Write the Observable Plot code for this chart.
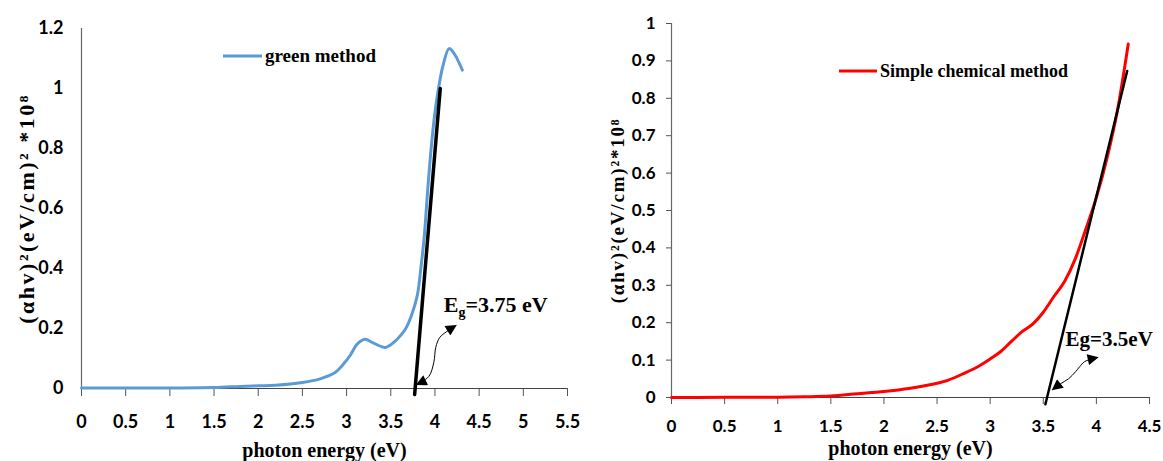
<!DOCTYPE html>
<html>
<head>
<meta charset="utf-8">
<script src="https://cdn.jsdelivr.net/npm/d3@7"></script>
<script src="https://cdn.jsdelivr.net/npm/@observablehq/plot@0.6"></script>
<style>
  html, body { margin: 0; padding: 0; background: #fff; }
  #wrap { position: relative; width: 1163px; height: 461px; display: flex; overflow: hidden; }
  .legend { position: absolute; display: flex; align-items: center; font-family: "Liberation Serif", serif; font-weight: bold; color: #000; white-space: nowrap; }
  .legend svg { display: block; margin-right: 3px; }
</style>
</head>
<body>
<div id="wrap"></div>
<script>
// ---------- data ----------
const greenX = [0, 0.5, 1, 1.5, 1.8, 2.0, 2.2, 2.5, 2.7, 2.87, 2.96, 3.04, 3.12, 3.21, 3.3, 3.44, 3.55, 3.62, 3.67, 3.73, 3.8, 3.84, 3.88, 3.92, 3.96, 4.0, 4.04, 4.09, 4.16, 4.22, 4.31];
const greenY = [0.002, 0.002, 0.002, 0.003, 0.007, 0.009, 0.011, 0.02, 0.032, 0.053, 0.08, 0.11, 0.148, 0.164, 0.152, 0.137, 0.158, 0.18, 0.2, 0.24, 0.31, 0.4, 0.51, 0.67, 0.81, 0.92, 1.0, 1.075, 1.133, 1.115, 1.061];

const redX = [0, 0.5, 1, 1.25, 1.5, 1.75, 2.0, 2.25, 2.5, 2.6, 2.75, 2.9, 3.0, 3.1, 3.2, 3.3, 3.4, 3.5, 3.6, 3.7, 3.8, 3.9, 4.0, 4.1, 4.2, 4.3];
const redY = [0, 0.0005, 0.001, 0.002, 0.004, 0.01, 0.016, 0.025, 0.038, 0.046, 0.064, 0.085, 0.103, 0.123, 0.15, 0.176, 0.196, 0.228, 0.27, 0.31, 0.37, 0.45, 0.535, 0.64, 0.77, 0.945];

// tangent (extrapolation) lines
const tangentLeftX = [3.77, 4.06];
const tangentLeftY = [-0.02, 1.0];
const tangentRightX = [3.52, 4.29];
const tangentRightY = [-0.018, 0.873];

// curved double arrows
const arrowLeftX = [3.794, 3.93, 3.987, 4.009, 4.054, 4.134, 4.236];
const arrowLeftY = [0.013, 0.04, 0.087, 0.137, 0.17, 0.19, 0.21];
const arrowRightX = [3.588, 3.663, 3.738, 3.804, 3.842, 3.889, 4.011];
const arrowRightY = [0.021, 0.037, 0.05, 0.069, 0.082, 0.096, 0.107];

// annotations
const labelLeft = {x: 4.10, y: 0.277, text: "Eg=3.75 eV"};
const labelRight = {x: 3.71, y: 0.157, text: "Eg=3.5eV"};

// ticks
const xTicksLeft = [0, 0.5, 1, 1.5, 2, 2.5, 3, 3.5, 4, 4.5, 5, 5.5];
const yTicksLeft = [0, 0.2, 0.4, 0.6, 0.8, 1, 1.2];
const xTicksRight = [0, 0.5, 1, 1.5, 2, 2.5, 3, 3.5, 4, 4.5];
const yTicksRight = [0, 0.1, 0.2, 0.3, 0.4, 0.5, 0.6, 0.7, 0.8, 0.9, 1];

const xTitle = "photon energy (eV)";
const yTitleLeft = "(αhv)²(eV/cm)² *10⁸";
const yTitleRight = "(αhv)²(eV/cm)²*10⁸";
const legendLeft = "green method";
const legendRight = "Simple chemical method";

const zip = (xs, ys) => xs.map((x, i) => ({x, y: ys[i]}));
const fmt = d => String(+d.toFixed(1));

function addArrowheads(svg, desc, id) {
  const ns = "http://www.w3.org/2000/svg";
  const defs = document.createElementNS(ns, "defs");
  const m = document.createElementNS(ns, "marker");
  m.setAttribute("id", id);
  m.setAttribute("viewBox", "0 0 10 10");
  m.setAttribute("refX", "9");
  m.setAttribute("refY", "5");
  m.setAttribute("markerWidth", "13");
  m.setAttribute("markerHeight", "11");
  m.setAttribute("markerUnits", "userSpaceOnUse");
  m.setAttribute("orient", "auto-start-reverse");
  const p = document.createElementNS(ns, "path");
  p.setAttribute("d", "M0,0L10,5L0,10z");
  p.setAttribute("fill", "black");
  m.appendChild(p);
  defs.appendChild(m);
  svg.appendChild(defs);
  const path = svg.querySelector(`g[aria-description="${desc}"] path`);
  if (path) {
    path.setAttribute("marker-start", `url(#${id})`);
    path.setAttribute("marker-end", `url(#${id})`);
  }
}

function subscriptG(svg, text, mainSize) {
  svg.querySelectorAll("text").forEach(t => {
    if (t.textContent === text) {
      const rest = text.slice(2);
      t.textContent = "";
      const ns = "http://www.w3.org/2000/svg";
      const a = document.createElementNS(ns, "tspan"); a.textContent = "E";
      const b = document.createElementNS(ns, "tspan"); b.textContent = "g";
      b.setAttribute("font-size", Math.round(mainSize * 0.65) + "px");
      b.setAttribute("dy", "0.3em");
      const c = document.createElementNS(ns, "tspan"); c.textContent = rest;
      c.setAttribute("dy", "-0.2em");
      t.append(a, b, c);
    }
  });
}

const serif = "Liberation Serif, Times New Roman, serif";
const wrap = document.getElementById("wrap");

// ---------- left chart ----------
const left = Plot.plot({
  width: 580, height: 461,
  marginLeft: 81, marginRight: 13, marginTop: 28, marginBottom: 73,
  style: {fontFamily: "Lato, sans-serif", fontWeight: "bold", fontSize: "18px", color: "#000", background: "#fff"},
  x: {domain: [0, 5.5]},
  y: {domain: [0, 1.2]},
  marks: [
    Plot.axisX({ticks: xTicksLeft, tickSize: 8, tickPadding: 19, tickFormat: fmt, label: null, stroke: "#555", fill: "#000"}),
    Plot.axisY({ticks: yTicksLeft, tickSize: 0, tickPadding: 18, tickFormat: fmt, label: null, fill: "#000"}),
    Plot.ruleX([0], {stroke: "#666", strokeWidth: 1.2}),
    Plot.ruleY([0], {stroke: "#444", strokeWidth: 1.2}),
    Plot.line(zip(greenX, greenY), {x: "x", y: "y", stroke: "#5B9BD5", strokeWidth: 3, curve: "catmull-rom"}),
    Plot.line(zip(tangentLeftX, tangentLeftY), {x: "x", y: "y", stroke: "#000", strokeWidth: 3.5}),
    Plot.line(zip(arrowLeftX, arrowLeftY), {x: "x", y: "y", stroke: "#000", strokeWidth: 1, curve: "catmull-rom", ariaDescription: "gap-arrow"}),
    Plot.text([labelLeft], {x: "x", y: "y", text: "text", textAnchor: "start", lineAnchor: "middle", fontFamily: serif, fontWeight: "bold", fontSize: 22, fill: "#000"}),
    Plot.text([xTitle], {frameAnchor: "bottom", dy: 62, text: d => d, textAnchor: "middle", lineAnchor: "middle", fontFamily: serif, fontWeight: "bold", fontSize: 20, fill: "#000"}),
    Plot.text([yTitleLeft], {frameAnchor: "left", dx: -55, rotate: -90, text: d => d, textAnchor: "middle", lineAnchor: "middle", fontFamily: serif, fontWeight: "bold", fontSize: 22, fill: "#000"})
  ]
});
addArrowheads(left, "gap-arrow", "ahL");
subscriptG(left, labelLeft.text, 22);
left.querySelectorAll("text").forEach(t => { if (t.textContent === yTitleLeft) t.setAttribute("letter-spacing", "2.5"); });

// ---------- right chart ----------
const right = Plot.plot({
  width: 583, height: 461,
  marginLeft: 91, marginRight: 14, marginTop: 23, marginBottom: 64,
  style: {fontFamily: "Lato, sans-serif", fontWeight: "bold", fontSize: "17px", color: "#000", background: "#fff"},
  x: {domain: [0, 4.5]},
  y: {domain: [0, 1]},
  marks: [
    Plot.axisX({ticks: xTicksRight, tickSize: 7, tickPadding: 15, tickFormat: fmt, label: null, stroke: "#555", fill: "#000"}),
    Plot.axisY({ticks: yTicksRight, tickSize: 5, tickPadding: 11, tickFormat: fmt, label: null, stroke: "#555", fill: "#000"}),
    Plot.ruleX([0], {stroke: "#666", strokeWidth: 1.2}),
    Plot.ruleY([0], {stroke: "#444", strokeWidth: 1.2}),
    Plot.line(zip(redX, redY), {x: "x", y: "y", stroke: "#FF0000", strokeWidth: 3, curve: "monotone-x"}),
    Plot.line(zip(tangentRightX, tangentRightY), {x: "x", y: "y", stroke: "#000", strokeWidth: 2.5}),
    Plot.line(zip(arrowRightX, arrowRightY), {x: "x", y: "y", stroke: "#000", strokeWidth: 1, curve: "catmull-rom", ariaDescription: "gap-arrow"}),
    Plot.text([labelRight], {x: "x", y: "y", text: "text", textAnchor: "start", lineAnchor: "middle", fontFamily: serif, fontWeight: "bold", fontSize: 21, fill: "#000"}),
    Plot.text([xTitle], {frameAnchor: "bottom", dy: 51, text: d => d, textAnchor: "middle", lineAnchor: "middle", fontFamily: serif, fontWeight: "bold", fontSize: 20, fill: "#000"}),
    Plot.text([yTitleRight], {frameAnchor: "left", dx: -54, rotate: -90, text: d => d, textAnchor: "middle", lineAnchor: "middle", fontFamily: serif, fontWeight: "bold", fontSize: 19, fill: "#000"})
  ]
});
addArrowheads(right, "gap-arrow", "ahR");
right.querySelectorAll("text").forEach(t => { if (t.textContent === yTitleRight) t.setAttribute("letter-spacing", "1.8"); });

wrap.append(left, right);

// ---------- legends ----------
function legend(text, color, leftPx, topPx, lineW, fontSize) {
  const d = document.createElement("div");
  d.className = "legend";
  d.style.left = leftPx + "px";
  d.style.top = topPx + "px";
  d.style.fontSize = fontSize + "px";
  d.style.height = "24px";
  d.innerHTML = `<svg width="${lineW}" height="6"><line x1="0" x2="${lineW}" y1="3" y2="3" stroke="${color}" stroke-width="3"/></svg><span>${text}</span>`;
  wrap.appendChild(d);
}
legend(legendLeft, "#5B9BD5", 223, 44, 39, 19);
legend(legendRight, "#FF0000", 839, 59, 38, 18);
</script>
</body>
</html>
